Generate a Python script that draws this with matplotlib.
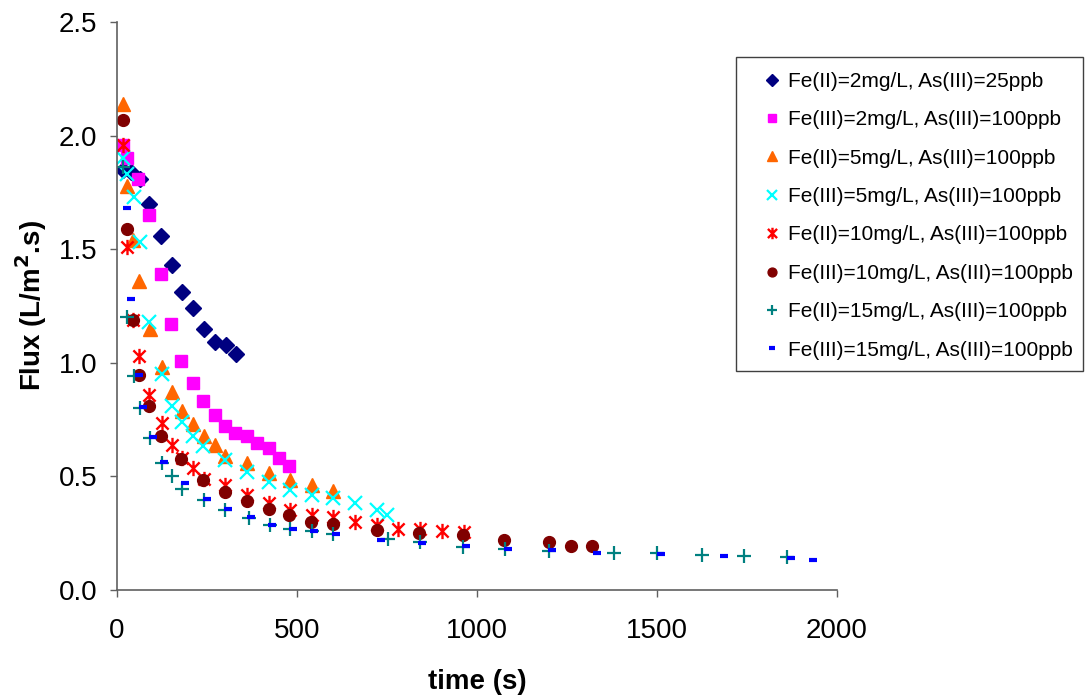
import matplotlib
matplotlib.use("Agg")
import matplotlib.pyplot as plt
from matplotlib.path import Path
from matplotlib.patches import Rectangle

plt.rcParams['font.family'] = ['Liberation Sans', 'DejaVu Sans']

labels = [
    "Fe(II)=2mg/L, As(III)=25ppb",
    "Fe(III)=2mg/L, As(III)=100ppb",
    "Fe(II)=5mg/L, As(III)=100ppb",
    "Fe(III)=5mg/L, As(III)=100ppb",
    "Fe(II)=10mg/L, As(III)=100ppb",
    "Fe(III)=10mg/L, As(III)=100ppb",
    "Fe(II)=15mg/L, As(III)=100ppb",
    "Fe(III)=15mg/L, As(III)=100ppb",
]

t1 = [18, 40, 65, 90, 122, 152, 181, 212, 242, 272, 302, 331]
f1 = [1.85, 1.84, 1.81, 1.70, 1.56, 1.43, 1.31, 1.24, 1.15, 1.09, 1.08, 1.04]

t2 = [17, 27, 59, 89, 122, 149, 177, 210, 238, 271, 299, 327, 360, 388, 421, 449, 477]
f2 = [1.96, 1.90, 1.81, 1.65, 1.39, 1.17, 1.01, 0.91, 0.83, 0.77, 0.72, 0.69, 0.68, 0.645, 0.625, 0.58, 0.545]

t3 = [17, 29, 45, 62, 92, 124, 152, 180, 212, 243, 273, 301, 362, 423, 480, 542, 601]
f3 = [2.14, 1.78, 1.54, 1.36, 1.15, 0.98, 0.87, 0.79, 0.73, 0.68, 0.64, 0.59, 0.56, 0.515, 0.485, 0.46, 0.435]

t4 = [17, 29, 47, 64, 90, 124, 152, 180, 212, 240, 301, 362, 423, 480, 541, 601, 662, 721, 751]
f4 = [1.90, 1.83, 1.73, 1.53, 1.18, 0.95, 0.81, 0.74, 0.68, 0.635, 0.57, 0.52, 0.475, 0.44, 0.42, 0.405, 0.385, 0.35, 0.33]

t5 = [17, 29, 44, 62, 90, 124, 152, 180, 212, 243, 301, 362, 423, 480, 541, 601, 662, 721, 781, 842, 902, 964]
f5 = [1.96, 1.51, 1.19, 1.03, 0.86, 0.735, 0.64, 0.58, 0.535, 0.49, 0.46, 0.42, 0.385, 0.35, 0.33, 0.32, 0.30, 0.285, 0.27, 0.27, 0.26, 0.255]

t6 = [16, 27, 44, 60, 89, 121, 177, 238, 300, 360, 421, 479, 540, 601, 721, 839, 960, 1076, 1199, 1260, 1320]
f6 = [2.07, 1.59, 1.19, 0.945, 0.81, 0.68, 0.575, 0.485, 0.43, 0.39, 0.355, 0.33, 0.30, 0.29, 0.265, 0.25, 0.24, 0.22, 0.21, 0.195, 0.195]

t7 = [17, 29, 47, 64, 92, 124, 152, 180, 242, 301, 368, 425, 480, 541, 601, 754, 842, 962, 1078, 1199, 1381, 1501, 1624, 1742, 1862]
f7 = [1.86, 1.20, 0.94, 0.80, 0.67, 0.56, 0.50, 0.445, 0.395, 0.35, 0.315, 0.285, 0.27, 0.26, 0.245, 0.225, 0.21, 0.19, 0.18, 0.17, 0.165, 0.165, 0.155, 0.148, 0.145]

t8 = [27, 38, 62, 73, 99, 131, 189, 249, 309, 371, 430, 488, 547, 608, 732, 847, 969, 1087, 1207, 1332, 1510, 1687, 1871, 1932]
f8 = [1.68, 1.28, 0.945, 0.805, 0.675, 0.565, 0.47, 0.40, 0.355, 0.32, 0.285, 0.27, 0.26, 0.245, 0.22, 0.205, 0.195, 0.18, 0.178, 0.163, 0.16, 0.15, 0.142, 0.134]

star = Path([(0, -1), (0, 1), (-0.8, -0.8), (0.8, 0.8), (-0.8, 0.8), (0.8, -0.8)],
            [Path.MOVETO, Path.LINETO, Path.MOVETO, Path.LINETO, Path.MOVETO, Path.LINETO])

W, H = 1090, 698
fig = plt.figure(figsize=(W / 100, H / 100), dpi=100)
ax = fig.add_axes([117 / W, 1 - 590 / H, 720 / W, 568 / H])

ax.plot(t1, f1, ls='none', marker='D', ms=8, color='#000080', mec='#000080', label=labels[0])
ax.plot(t2, f2, ls='none', marker='s', ms=8.5, color='#FF00FF', mec='#FF00FF', label=labels[1])
ax.plot(t3, f3, ls='none', marker='^', ms=10, color='#FF6600', mec='#FF6600', label=labels[2])
ax.plot(t4, f4, ls='none', marker='x', ms=10, mew=1.6, color='#00FFFF', label=labels[3])
ax.plot(t5, f5, ls='none', marker=star, ms=11, mew=1.7, color='#FF0000', label=labels[4])
ax.plot(t6, f6, ls='none', marker='o', ms=8.5, color='#800000', mec='#800000', label=labels[5])
ax.plot(t7, f7, ls='none', marker='+', ms=10, mew=1.6, color='#008080', label=labels[6])
ax.plot(t8, f8, ls='none', marker='_', ms=6, mew=3, color='#0000FF', label=labels[7])

ax.set_xlim(0, 2000)
ax.set_ylim(0, 2.5)
ax.set_xticks([0, 500, 1000, 1500, 2000])
ax.set_yticks([0.0, 0.5, 1.0, 1.5, 2.0, 2.5])
ax.set_yticklabels(['0.0', '0.5', '1.0', '1.5', '2.0', '2.5'])
ax.tick_params(axis='both', labelsize=20, direction='out', length=5, width=1, color='#606060')
ax.tick_params(axis='x', pad=15)
ax.tick_params(axis='y', pad=9)
for s in ['top', 'right']:
    ax.spines[s].set_visible(False)
for s in ['left', 'bottom']:
    ax.spines[s].set_color('#606060')
    ax.spines[s].set_linewidth(1.2)

ax.set_xlabel('time (s)', fontsize=20, fontweight='bold', labelpad=18)
ax.set_ylabel('Flux (L/m$^\\mathbf{2}$.s)', fontsize=20, fontweight='bold', labelpad=7)

# legend frame
fig.patches.append(Rectangle((736 / W, 1 - 371 / H), (1083 - 736) / W, (371 - 57) / H,
                             transform=fig.transFigure, fill=False, edgecolor='#404040',
                             linewidth=1.0))

leg = fig.legend(loc='upper left', bbox_to_anchor=(758 / W, 1 - 72 / H), fontsize=15,
                 frameon=False, labelspacing=0.93, borderpad=0.0, borderaxespad=0.0,
                 handlelength=1.34, handletextpad=0.1, markerscale=0.75)

fig.savefig('out.png', dpi=100)
